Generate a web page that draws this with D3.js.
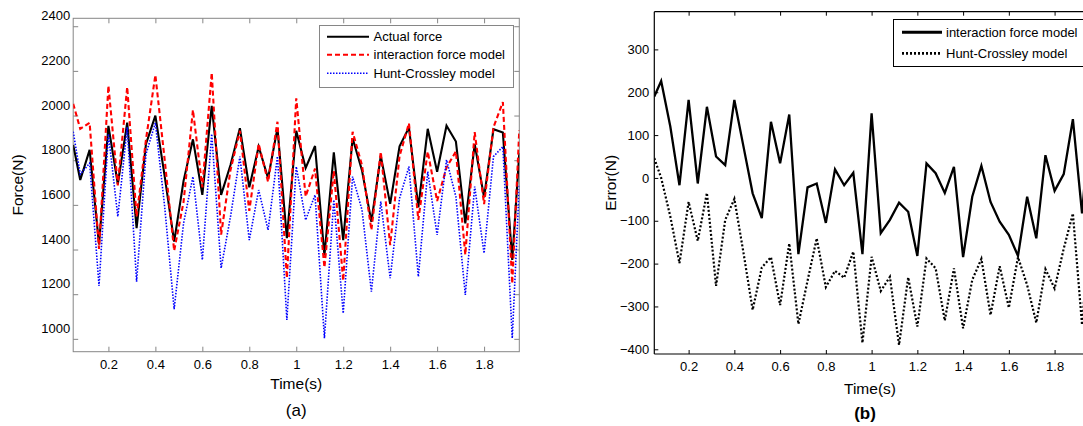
<!DOCTYPE html>
<html><head><meta charset="utf-8">
<script src="https://cdn.jsdelivr.net/npm/d3@7"></script>
<style>
html,body{margin:0;padding:0;background:#fff;}
text{font-family:"Liberation Sans",Arial,sans-serif;}
</style></head>
<body><svg id="chart" width="1083" height="426"></svg>
<script>
// ---- data ----
const time = [0.05,0.08,0.12,0.16,0.20,0.24,0.28,0.32,0.36,0.40,0.44,0.48,0.52,0.56,0.60,0.64,0.68,0.72,0.76,0.80,0.84,0.88,0.92,0.96,1.00,1.04,1.08,1.12,1.16,1.20,1.24,1.28,1.32,1.36,1.40,1.44,1.48,1.52,1.56,1.60,1.64,1.68,1.72,1.76,1.80,1.84,1.88,1.92,1.95];
const actualForce = [1821,1664,1799,1375,1906,1646,1921,1448,1825,1952,1678,1388,1660,1846,1597,1996,1597,1731,1896,1631,1813,1672,1896,1403,1884,1718,1816,1326,1788,1395,1851,1707,1477,1772,1557,1815,1899,1541,1893,1701,1907,1836,1470,1825,1586,1891,1876,1306,1784];
const interactionModel = [2005,1893,1920,1355,2086,1640,2080,1500,1845,2134,1751,1347,1566,1977,1631,2144,1419,1709,1884,1526,1826,1655,1925,1225,2030,1590,1715,1272,1705,1213,1880,1730,1440,1790,1372,1771,1918,1485,1791,1570,1720,1792,1329,1878,1556,1900,2013,1200,1888];
const huntCrossley = [1880,1690,1739,1190,1870,1500,1900,1209,1780,1920,1540,1085,1470,1679,1306,1870,1269,1500,1769,1395,1619,1440,1770,1037,1724,1485,1597,955,1575,1067,1679,1530,1164,1567,1224,1582,1724,1231,1701,1418,1754,1589,1149,1634,1336,1769,1813,955,1642];
const errInteraction = [190,226,120,-17,182,-13,166,50,30,182,73,-36,-94,131,34,148,-178,-22,-13,-105,20,-17,12,-178,151,-129,-98,-58,-79,-182,34,11,-35,26,-185,-44,28,-56,-102,-133,-182,-44,-141,53,-30,9,137,-83,104];
const errHuntCrossley = [46,0,-90,-199,-56,-147,-35,-252,-98,-49,-175,-308,-209,-185,-297,-153,-341,-240,-141,-255,-217,-233,-172,-385,-184,-264,-231,-390,-232,-347,-188,-211,-333,-211,-351,-238,-189,-320,-206,-303,-185,-250,-338,-213,-258,-165,-83,-343,-142];
const xTicks = [0.2,0.4,0.6,0.8,1,1.2,1.4,1.6,1.8];
const forceTicks = [1000,1200,1400,1600,1800,2000,2200,2400];
const errorTicks = [-400,-300,-200,-100,0,100,200,300];
const legendA = ["Actual force","interaction force model","Hunt-Crossley model"];
const legendB = ["interaction force model","Hunt-Crossley model"];

const svg = d3.select("#chart");
svg.append("rect").attr("width",1083).attr("height",426).attr("fill","#fff");
const fmtX = d => String(+(+d).toFixed(1));
const fmtY = d3.format("d");

// ================= Panel (a) =================
const A = {l:73.2, r:519.3, t:18.3, b:351.7};
const xA = d3.scaleLinear().domain([0.05,1.95]).range([A.l,A.r]);
const yA = d3.scaleLinear().domain([895,2388]).range([A.b,A.t]);
const gray = "#868686";
const gA = svg.append("g");
gA.append("clipPath").attr("id","clipA").append("rect")
  .attr("x",A.l).attr("y",A.t).attr("width",A.r-A.l).attr("height",A.b-A.t);

const tickOff = 10.6;
const axB = gA.append("g").attr("transform",`translate(0,${A.b})`)
  .call(d3.axisBottom(xA).tickValues(xTicks).tickSize(-5).tickPadding(8).tickFormat(fmtX));
const axT = gA.append("g").attr("transform",`translate(0,${A.t})`)
  .call(d3.axisTop(xA).tickValues(xTicks).tickSize(-5).tickFormat(""));
const axL = gA.append("g").attr("transform",`translate(${A.l},${tickOff})`)
  .call(d3.axisLeft(yA).tickValues(forceTicks).tickSize(-5).tickFormat(""));
const axR = gA.append("g").attr("transform",`translate(${A.r},${tickOff})`)
  .call(d3.axisRight(yA).tickValues(forceTicks).tickSize(-5).tickFormat(""));
const axLL = gA.append("g").attr("transform",`translate(${A.l},0)`)
  .call(d3.axisLeft(yA).tickValues(forceTicks).tickSize(0).tickPadding(3).tickFormat(fmtY));
[axB,axT,axL,axR,axLL].forEach(g=>{g.select(".domain").remove();
  g.selectAll("line").attr("stroke",gray);
  g.selectAll("text").attr("fill","#000").style("font-size","13px").style("font-family","'Liberation Sans',Arial,sans-serif");});
gA.append("rect").attr("x",A.l).attr("y",A.t).attr("width",A.r-A.l).attr("height",A.b-A.t)
  .attr("fill","none").attr("stroke",gray).attr("stroke-width",1);

const lineA = d3.line().x((d,i)=>xA(time[i])).y(d=>yA(d));
const seriesA = [
  {data:actualForce, color:"#000", width:2.1, dash:null},
  {data:interactionModel, color:"#ff0000", width:2.1, dash:"5,3"},
  {data:huntCrossley, color:"#0000ff", width:1.6, dash:"1.5,1.5"}
];
const plotA = gA.append("g").attr("clip-path","url(#clipA)");
seriesA.forEach(s=>{
  plotA.append("path").attr("d",lineA(s.data)).attr("fill","none")
    .attr("stroke",s.color).attr("stroke-width",s.width)
    .attr("stroke-dasharray",s.dash).attr("stroke-linejoin","miter");
});

const lgA = gA.append("g");
lgA.append("rect").attr("x",319.5).attr("y",25.5).attr("width",194).attr("height",62)
  .attr("fill","#fff").attr("stroke",gray).attr("stroke-width",1);
const lyA = [36.7,54.8,73.3];
seriesA.forEach((s,i)=>{
  lgA.append("line").attr("x1",327).attr("x2",369).attr("y1",lyA[i]).attr("y2",lyA[i])
    .attr("stroke",s.color).attr("stroke-width",s.width).attr("stroke-dasharray",s.dash);
  lgA.append("text").attr("x",373.5).attr("y",lyA[i]).attr("dy","0.35em")
    .style("font-size","13px").text(legendA[i]);
});
gA.append("text").attr("transform",`translate(23,${(A.t+A.b)/2}) rotate(-90)`)
  .attr("text-anchor","middle").style("font-size","15.5px").text("Force(N)");
gA.append("text").attr("x",(A.l+A.r)/2).attr("y",389).attr("text-anchor","middle")
  .style("font-size","15.5px").text("Time(s)");
gA.append("text").attr("x",(A.l+A.r)/2).attr("y",416).attr("text-anchor","middle")
  .style("font-size","17px").text("(a)");

// ================= Panel (b) =================
const B = {l:654.3, r:1088.9, t:11.7, b:354};
const xB = d3.scaleLinear().domain([0.05,1.95]).range([B.l,B.r]);
const yB = d3.scaleLinear().domain([-411,388]).range([B.b,B.t]);
const gB = svg.append("g");
gB.append("clipPath").attr("id","clipB").append("rect")
  .attr("x",B.l).attr("y",B.t).attr("width",B.r-B.l).attr("height",B.b-B.t);
const bB = gB.append("g").attr("transform",`translate(0,${B.b})`)
  .call(d3.axisBottom(xB).tickValues(xTicks).tickSize(-4).tickPadding(8).tickFormat(fmtX));
const bT = gB.append("g").attr("transform",`translate(0,${B.t})`)
  .call(d3.axisTop(xB).tickValues(xTicks).tickSize(-4).tickFormat(""));
const bL = gB.append("g").attr("transform",`translate(${B.l},0)`)
  .call(d3.axisLeft(yB).tickValues(errorTicks).tickSize(-4).tickPadding(5).tickFormat(fmtY));
[bB,bT,bL].forEach(g=>{g.select(".domain").remove();
  g.selectAll("line").attr("stroke","#000");
  g.selectAll("text").attr("fill","#000").style("font-size","13px").style("font-family","'Liberation Sans',Arial,sans-serif");});
gB.append("line").attr("x1",B.l).attr("x2",B.l).attr("y1",B.t).attr("y2",B.b).attr("stroke","#000").attr("stroke-width",1.2);
gB.append("line").attr("x1",B.l).attr("x2",B.r).attr("y1",B.t).attr("y2",B.t).attr("stroke","#000").attr("stroke-width",1.2);
gB.append("line").attr("x1",B.l).attr("x2",B.r).attr("y1",B.b).attr("y2",B.b).attr("stroke","#000").attr("stroke-width",1.2);

const lineB = d3.line().x((d,i)=>xB(time[i])).y(d=>yB(d));
const seriesB = [
  {data:errInteraction, color:"#000", width:2.3, dash:null},
  {data:errHuntCrossley, color:"#000", width:2.2, dash:"2,2"}
];
const plotB = gB.append("g").attr("clip-path","url(#clipB)");
seriesB.forEach(s=>{
  plotB.append("path").attr("d",lineB(s.data)).attr("fill","none")
    .attr("stroke",s.color).attr("stroke-width",s.width).attr("stroke-dasharray",s.dash);
});
const lgB = gB.append("g");
lgB.append("rect").attr("x",893.5).attr("y",19.5).attr("width",200).attr("height",47)
  .attr("fill","#fff").attr("stroke","#000").attr("stroke-width",1);
const lyB = [32.3,53.3];
seriesB.forEach((s,i)=>{
  lgB.append("line").attr("x1",902).attr("x2",942).attr("y1",lyB[i]).attr("y2",lyB[i])
    .attr("stroke",s.color).attr("stroke-width",s.width+0.6).attr("stroke-dasharray",s.dash);
  lgB.append("text").attr("x",946).attr("y",lyB[i]).attr("dy","0.35em")
    .style("font-size","13px").text(legendB[i]);
});
gB.append("text").attr("transform",`translate(616,${(B.t+B.b)/2}) rotate(-90)`)
  .attr("text-anchor","middle").style("font-size","15.5px").text("Error(N)");
gB.append("text").attr("x",870).attr("y",394).attr("text-anchor","middle")
  .style("font-size","15.5px").text("Time(s)");
gB.append("text").attr("x",865).attr("y",419).attr("text-anchor","middle")
  .style("font-size","17px").style("font-weight","bold").text("(b)");
</script></body></html>
